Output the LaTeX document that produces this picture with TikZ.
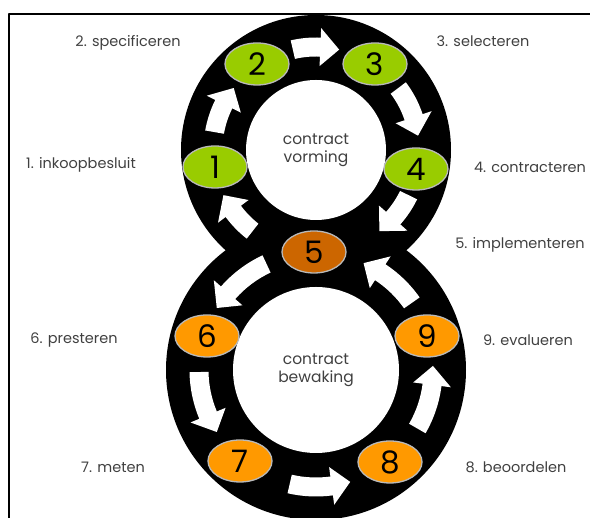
\documentclass[tikz,border=0pt]{standalone}
\usepackage{fontspec}
\setmainfont{Poppins}
\usetikzlibrary{shapes.geometric}
\definecolor{stapgroen}{HTML}{99CC00}
\definecolor{staporanje}{HTML}{FF9900}
\definecolor{stapbruin}{HTML}{CC6600}
\definecolor{tekstgrijs}{HTML}{404040}
\tikzset{
  stap/.style={ellipse, draw=gray!55, line width=1.3pt, minimum width=64, minimum height=42,
    inner sep=0pt, font=\fontsize{31}{31}\selectfont},
  fase/.style={text=tekstgrijs, font=\fontsize{14.5}{14.5}\selectfont},
  kern/.style={text=tekstgrijs, align=center, font=\fontsize{15.5}{18}\selectfont}
}
% witte gebogen pijl: middelpunt, straal, van hoek, naar hoek
\newcommand{\ringpijl}[4]{%
  \pgfmathsetmacro{\kop}{#4-sign(#4-#3)*19/#2*57.3}%
  \pgfmathsetmacro{\rbu}{#2+9.5}\pgfmathsetmacro{\rbi}{#2-9.5}%
  \pgfmathsetmacro{\rku}{#2+19}\pgfmathsetmacro{\rki}{#2-19}%
  \fill[white, shift={(#1)}] (#3:\rbu) arc[start angle=#3, end angle=\kop, radius=\rbu]
    -- (\kop:\rku) -- (#4:#2) -- (\kop:\rki) -- (\kop:\rbi)
    arc[start angle=\kop, end angle=#3, radius=\rbi] -- cycle;}
\begin{document}
\begin{tikzpicture}[x=1pt, y=1pt, line join=round]
	\useasboundingbox (0,0) rectangle (590,518);
	\clip (0,0) rectangle (590,518);
	\path
	(316,368) coordinate (B)
	(316,148) coordinate (O)
	(590,504) coordinate (hr)
	(9,504) coordinate (hl)
	(9,-2) coordinate (ol);
	\draw[line width=2pt] (hr) -- (hl) -- (ol);
	% de acht
	\fill (B) circle (135) (O) circle (150);
	\fill[white] (B) circle (70) (O) circle (83);
	\foreach \a/\b in {170/143, 103/77, 37/8, -26/-52, -128/-154}
	\ringpijl{B}{103}{\a}{\b};
	\foreach \a/\b in {115/148, 181/212, 257/287, -30/2, 35/66}
	\ringpijl{O}{117}{\a}{\b};
	% stappen
	\node[stap, fill=stapgroen] (s1) at (215,351) {1};
	\node[stap, fill=stapgroen] (s2) at (257,454) {2};
	\node[stap, fill=stapgroen] (s3) at (375,454) {3};
	\node[stap, fill=stapgroen] (s4) at (416,349) {4};
	\node[stap, fill=stapbruin] (s5) at (314,266) {5};
	\node[stap, fill=staporanje] (s6) at (207,182) {6};
	\node[stap, fill=staporanje] (s7) at (240,57) {7};
	\node[stap, fill=staporanje] (s8) at (390,56) {8};
	\node[stap, fill=staporanje] (s9) at (427,182) {9};
	\node[kern] (kb) at (B) {contract\\vorming};
	\node[kern] (ko) at (O) {contract\\bewaking};
	% fasen
	\node[fase] (f1) at (81,353) {1. inkoopbesluit};
	\node[fase] (f2) at (128,475) {2. specificeren};
	\node[fase] (f3) at (483,477) {3. selecteren};
	\node[fase] (f4) at (530,351) {4. contracteren};
	\node[fase] (f5) at (520,273) {5. implementeren};
	\node[fase] (f6) at (74,178) {6. presteren};
	\node[fase] (f7) at (113,51) {7. meten};
	\node[fase] (f8) at (516,51) {8. beoordelen};
	\node[fase] (f9) at (528,178) {9. evalueren};
\end{tikzpicture}
\end{document}
